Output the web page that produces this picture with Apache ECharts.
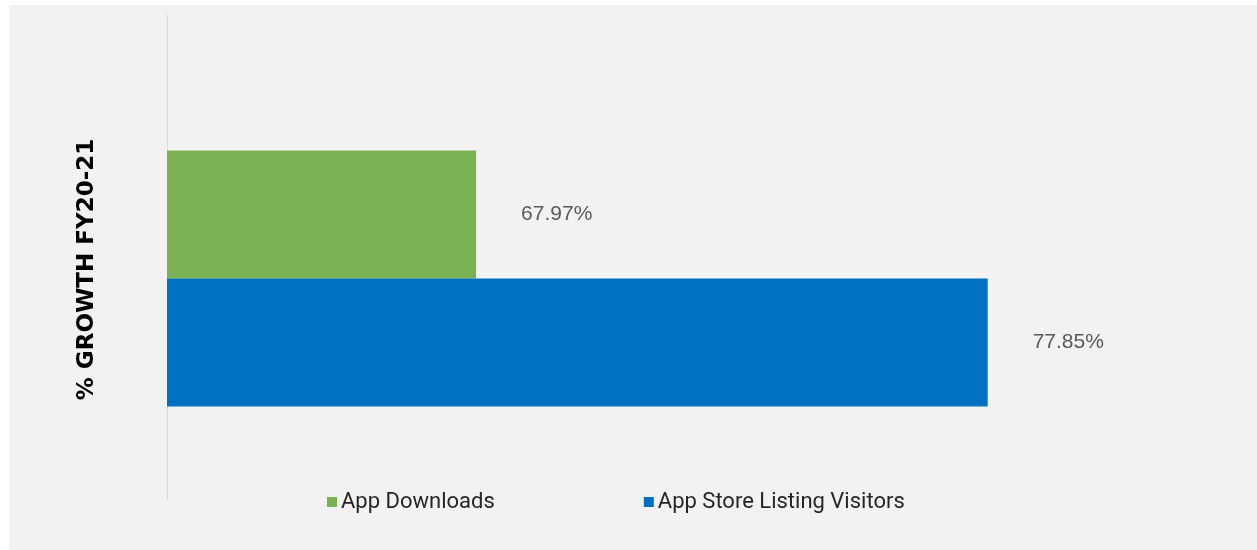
<!DOCTYPE html>
<html>
<head>
<meta charset="utf-8">
<script src="https://cdn.jsdelivr.net/npm/echarts@6/dist/echarts.min.js"></script>
<style>
  html, body { margin: 0; padding: 0; background: #ffffff; }
  #chart { position: absolute; left: 9px; top: 5px; width: 1248px; height: 545px; background: #f2f2f2; }
</style>
</head>
<body>
<div id="chart"></div>
<script>
// Growth figures, FY20-21 (percent)
const categories = ['FY20-21'];
const seriesNames = ['App Downloads', 'App Store Listing Visitors'];
const appDownloads = [67.97];
const listingVisitors = [77.85];
const axisTitle = '% GROWTH FY20-21';

const colors = ['#7ab152', '#0070c0'];
const fontFamily = 'Roboto, "Liberation Sans", Arial, sans-serif';

const chart = echarts.init(document.getElementById('chart'), null, { renderer: 'canvas' });

const labelStyle = {
  show: true,
  position: 'right',
  distance: 45,
  fontSize: 21,
  fontFamily: '"Liberation Sans", Arial, sans-serif',
  color: '#595959',
  formatter: (p) => p.value.toFixed(2) + '%'
};

chart.setOption({
  animation: false,
  textStyle: { fontFamily: fontFamily },
  grid: [
    // frame that carries the vertical axis line
    { left: 158, right: 158, top: 10, bottom: 50 },
    // bar area
    { left: 158, right: 158, top: 46, bottom: 44 }
  ],
  legend: {
    data: seriesNames,
    left: 313,
    top: 481,
    icon: 'rect',
    itemWidth: 10,
    itemHeight: 10,
    itemGap: 149,
    textStyle: { fontSize: 22, color: '#262626', fontFamily: fontFamily, padding: [0, 0, 0, -1] }
  },
  xAxis: [
    { gridIndex: 0, type: 'value', min: 62, max: 80, show: false },
    { gridIndex: 1, type: 'value', min: 62, max: 80, show: false }
  ],
  yAxis: [
    {
      gridIndex: 0, type: 'category', data: [''],
      axisLine: { show: true, lineStyle: { color: '#d9d9d9', width: 1 } },
      axisTick: { show: false }, axisLabel: { show: false }, splitLine: { show: false }
    },
    {
      gridIndex: 1, type: 'category', data: categories, inverse: true,
      axisLine: { show: false }, axisTick: { show: false }, axisLabel: { show: false },
      name: axisTitle,
      nameLocation: 'middle',
      nameGap: 68,
      nameRotate: 90,
      nameTextStyle: {
        fontSize: 23, fontWeight: 'bold', color: '#000000',
        fontFamily: '"DejaVu Sans", sans-serif',
        padding: [0, 0, 0, 18]
      }
    }
  ],
  series: [
    {
      name: seriesNames[0], type: 'bar', xAxisIndex: 1, yAxisIndex: 1,
      data: appDownloads, barWidth: 128, barGap: '0%',
      itemStyle: { color: colors[0] }, label: labelStyle
    },
    {
      name: seriesNames[1], type: 'bar', xAxisIndex: 1, yAxisIndex: 1,
      data: listingVisitors, barWidth: 128, barGap: '0%',
      itemStyle: { color: colors[1] }, label: labelStyle
    }
  ]
});
</script>
</body>
</html>
